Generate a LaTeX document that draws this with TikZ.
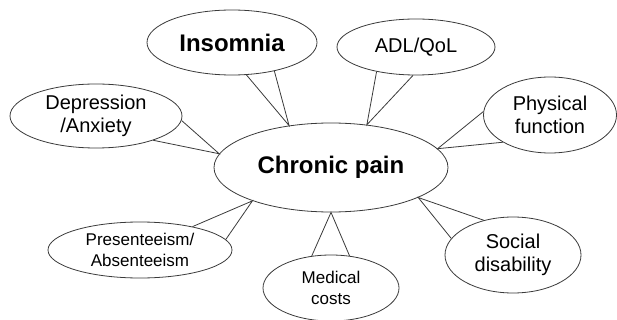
\documentclass[tikz,border=0pt]{standalone}
\usepackage{fontspec}
\setmainfont{Liberation Sans}
\usetikzlibrary{shapes.geometric}
\definecolor{linegray}{HTML}{3A3A3A}
\begin{document}
\begin{tikzpicture}[x=1pt,y=-1pt,
  bubble/.style={ellipse, draw=linegray, line width=0.8pt, inner sep=0pt, align=center, text=black},
  link/.style={draw=linegray, line width=0.8pt},
  big/.style={font=\fontsize{24}{28}\selectfont\bfseries},
  mid/.style={font=\fontsize{20}{23.5}\selectfont},
  small/.style={font=\fontsize{17}{21}\selectfont}]
\useasboundingbox (0,0) rectangle (617,320);
\node[bubble, big, minimum width=234pt, minimum height=89pt] (cp) at (331,167.5) {Chronic pain};
\node[bubble, big, minimum width=170pt, minimum height=65pt] (ins) at (232,42.5) {Insomnia};
\node[bubble, mid, minimum width=172pt, minimum height=64pt] (dep) at (96,116) {Depression\\/Anxiety};
\node[bubble, mid, minimum width=158pt, minimum height=56pt] (adl) at (416,47) {ADL/QoL};
\node[bubble, mid, minimum width=133pt, minimum height=76pt] (phy) at (550,115) {Physical\\function};
\node[bubble, small, minimum width=184pt, minimum height=56pt] (pre) at (140,250) {Presenteeism/\\Absenteeism};
\node[bubble, small, minimum width=136pt, minimum height=66pt] (med) at (331,288) {Medical\\costs};
\node[bubble, mid, minimum width=136pt, minimum height=76pt] (soc) at (513,255) {Social\\disability};
% connectors
\draw[link] (ins.294) -- (cp.135) -- (ins.326);
\draw[link] (dep.357) -- (cp.173.4) -- (dep.337);
\draw[link] (adl.212) -- (cp.50) -- (adl.264);
\draw[link] (phy.177) -- (cp.10.5) -- (phy.210);
\draw[link] (pre.24.8) -- (cp.203) -- (pre.7.9);
\draw[link] (med.121.5) -- (cp.270) -- (med.60);
\draw[link] (soc.165.7) -- (cp.341) -- (soc.130.6);
\end{tikzpicture}
\end{document}
